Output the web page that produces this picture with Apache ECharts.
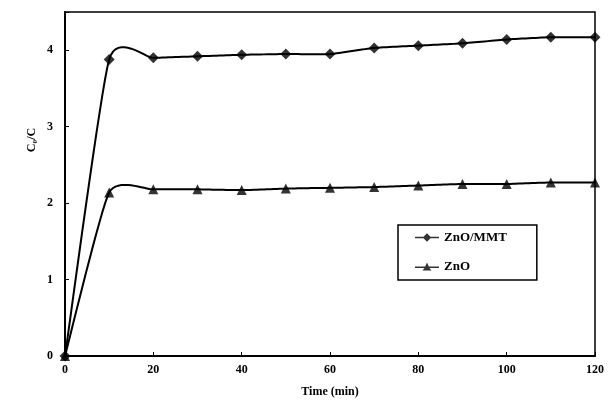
<!DOCTYPE html>
<html>
<head>
<meta charset="utf-8">
<script src="https://cdn.jsdelivr.net/npm/echarts@6/dist/echarts.min.js"></script>
<style>
  html, body { margin: 0; padding: 0; background: #fff; }
  #chart { width: 608px; height: 403px; }
</style>
</head>
<body>
<div id="chart"></div>
<script>
// values
const times = [0, 10, 20, 30, 40, 50, 60, 70, 80, 90, 100, 110, 120];
const znoMmt = [0, 3.88, 3.90, 3.92, 3.94, 3.95, 3.95, 4.03, 4.06, 4.09, 4.14, 4.17, 4.17];
const zno = [0, 2.14, 2.18, 2.18, 2.17, 2.19, 2.20, 2.21, 2.23, 2.25, 2.25, 2.27, 2.27];
const xTicks = [0, 20, 40, 60, 80, 100, 120];
const yTicks = [0, 1, 2, 3, 4];

const font = "Liberation Serif";
const k = 0.09; // smoothing tension, close to the spreadsheet curve

// smooth curve through the points (overshoots like the original)
function smoothCurve(values) {
  return function (params, api) {
    if (params.dataIndex !== 0) return;
    const p = times.map((t, i) => api.coord([t, values[i]]));
    const out = [p[0]];
    for (let i = 0; i < p.length - 1; i++) {
      const p0 = p[Math.max(i - 1, 0)], p1 = p[i], p2 = p[i + 1], p3 = p[Math.min(i + 2, p.length - 1)];
      const c1 = [p1[0] + (p2[0] - p0[0]) * k, p1[1] + (p2[1] - p0[1]) * k];
      const c2 = [p2[0] - (p3[0] - p1[0]) * k, p2[1] - (p3[1] - p1[1]) * k];
      for (let s = 1; s <= 16; s++) {
        const t = s / 16, u = 1 - t;
        out.push([
          u * u * u * p1[0] + 3 * u * u * t * c1[0] + 3 * u * t * t * c2[0] + t * t * t * p2[0],
          u * u * u * p1[1] + 3 * u * u * t * c1[1] + 3 * u * t * t * c2[1] + t * t * t * p2[1]
        ]);
      }
    }
    return {
      type: "polyline",
      shape: { points: out },
      style: { fill: null, stroke: "#000", lineWidth: 2 }
    };
  };
}

const diamondIcon = "path://M0,3.75L8.5,3.75L12,0.3L15.5,3.75L24,3.75L24,5.25L15.5,5.25L12,8.7L8.5,5.25L0,5.25Z";
const triangleIcon = "path://M0,4.5L10.2,4.5L12,0.5L13.8,4.5L24,4.5L24,6L14.5,6L16.5,8.7L7.5,8.7L9.5,6L0,6Z";

const chart = echarts.init(document.getElementById("chart"));
chart.setOption({
  animation: false,
  backgroundColor: "#fff",
  grid: {
    left: 65, right: 13, top: 12, bottom: 46,
    show: true, borderColor: "#000", borderWidth: 1.5
  },
  xAxis: {
    type: "value",
    min: 0, max: 120, interval: 20,
    name: "Time (min)",
    nameLocation: "middle",
    nameGap: 30,
    nameTextStyle: { fontFamily: font, fontWeight: "bold", fontSize: 12, color: "#000" },
    axisLine: { lineStyle: { color: "#000", width: 2 } },
    axisTick: { inside: true, length: 4, lineStyle: { color: "#000" } },
    axisLabel: {
      fontFamily: font, fontWeight: "bold", fontSize: 12, color: "#000", margin: 8,
      formatter: v => (xTicks.includes(v) ? v : "")
    },
    splitLine: { show: false }
  },
  yAxis: {
    type: "value",
    min: 0, max: 4.5, interval: 1,
    axisLine: { lineStyle: { color: "#000", width: 2 } },
    axisTick: { inside: true, length: 4, lineStyle: { color: "#000" } },
    axisLabel: {
      fontFamily: font, fontWeight: "bold", fontSize: 12, color: "#000", margin: 12,
      formatter: v => (yTicks.includes(v) ? v : "")
    },
    splitLine: { show: false }
  },
  graphic: [{
    type: "text",
    x: 32, y: 140,
    rotation: Math.PI / 2,
    style: {
      text: "C\u2080/C",
      font: "bold 12px " + font,
      fill: "#000",
      align: "center",
      verticalAlign: "middle"
    }
  }],
  legend: {
    orient: "vertical",
    left: 398, top: 225,
    padding: [6, 30, 7, 17],
    itemGap: 16,
    itemWidth: 24, itemHeight: 9,
    backgroundColor: "#fff",
    borderColor: "#000", borderWidth: 1.5, borderRadius: 0,
    textStyle: { fontFamily: font, fontWeight: "bold", fontSize: 13, color: "#000" },
    data: [
      { name: "ZnO/MMT", icon: diamondIcon },
      { name: "ZnO", icon: triangleIcon }
    ]
  },
  series: [
    {
      type: "custom", name: "curveMmt", silent: true,
      data: [[0, 0]], encode: { x: 0, y: 1 },
      renderItem: smoothCurve(znoMmt)
    },
    {
      type: "custom", name: "curveZno", silent: true,
      data: [[0, 0]], encode: { x: 0, y: 1 },
      renderItem: smoothCurve(zno)
    },
    {
      type: "scatter", name: "ZnO/MMT",
      symbol: "diamond", symbolSize: 11,
      itemStyle: { color: "#000" },
      data: times.map((t, i) => [t, znoMmt[i]])
    },
    {
      type: "scatter", name: "ZnO",
      symbol: "triangle", symbolSize: 10,
      itemStyle: { color: "#000" },
      data: times.map((t, i) => [t, zno[i]])
    }
  ]
});
</script>
</body>
</html>
